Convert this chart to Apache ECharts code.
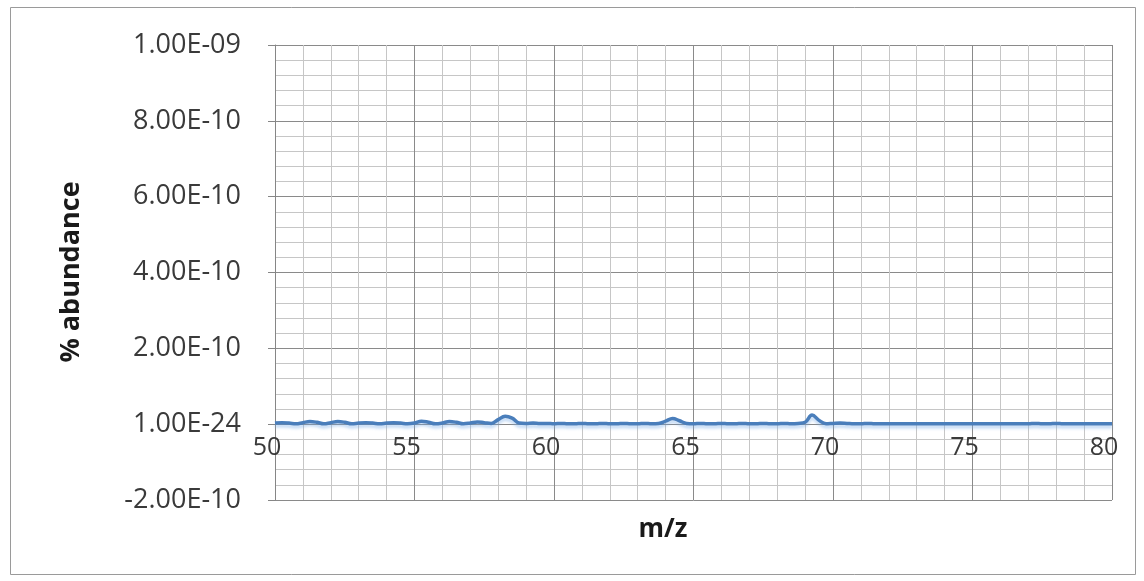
<!DOCTYPE html>
<html>
<head>
<meta charset="utf-8">
<script src="https://cdn.jsdelivr.net/npm/echarts@6/dist/echarts.min.js"></script>
<style>html,body{margin:0;padding:0;background:#fff}#c{width:1144px;height:581px}</style>
</head>
<body>
<div id="c"></div>
<script>
const mz = [50,50.25,50.5,50.75,51,51.25,51.5,51.75,52,52.25,52.5,52.75,53,53.25,53.5,53.75,54,54.25,54.5,54.75,
55,55.25,55.5,55.75,56,56.25,56.5,56.75,57,57.25,57.5,57.75,58,58.25,58.5,58.75,59,59.25,59.5,59.75,
60,60.25,60.5,60.75,61,61.25,61.5,61.75,62,62.25,62.5,62.75,63,63.25,63.5,63.75,64,64.25,64.5,64.75,
65,65.25,65.5,65.75,66,66.25,66.5,66.75,67,67.25,67.5,67.75,68,68.25,68.5,68.75,69,69.25,69.5,69.75,
70,70.25,70.5,70.75,71,71.25,71.5,71.75,72,72.25,72.5,72.75,73,73.25,73.5,73.75,74,74.25,74.5,74.75,
75,75.25,75.5,75.75,76,76.25,76.5,76.75,77,77.25,77.5,77.75,78,78.25,78.5,78.75,79,79.25,79.5,79.75,80];
const abundance = [3e-12,4e-12,3e-12,1e-12,4e-12,7e-12,5e-12,1e-12,4e-12,7e-12,5e-12,1e-12,3e-12,4e-12,3e-12,1e-12,3e-12,4e-12,3e-12,1e-12,
3e-12,8e-12,5e-12,1e-12,3e-12,7e-12,5e-12,1e-12,3e-12,6e-12,4e-12,2e-12,12e-12,21e-12,16e-12,3e-12,2e-12,3e-12,2e-12,2e-12,
1e-12,2e-12,1e-12,1e-12,2e-12,1e-12,1e-12,2e-12,1e-12,1e-12,2e-12,1e-12,1e-12,2e-12,1e-12,2e-12,8e-12,15e-12,9e-12,2e-12,
1e-12,2e-12,1e-12,1e-12,2e-12,1e-12,1e-12,2e-12,1e-12,1e-12,2e-12,1e-12,1e-12,2e-12,1e-12,2e-12,5e-12,24e-12,10e-12,1e-12,
2e-12,3e-12,2e-12,1e-12,1e-12,2e-12,1e-12,1e-12,1e-12,1e-12,1e-12,1e-12,1e-12,1e-12,1e-12,1e-12,1e-12,1e-12,1e-12,1e-12,
1e-12,1e-12,1e-12,1e-12,1e-12,1e-12,1e-12,1e-12,1e-12,2e-12,1e-12,1e-12,2e-12,1e-12,1e-12,1e-12,1e-12,1e-12,1e-12,1e-12,1e-12];
const yTickLabels = ['-2.00E-10','1.00E-24','2.00E-10','4.00E-10','6.00E-10','8.00E-10','1.00E-09'];
const yMin = -2e-10, yMax = 1e-9, yStep = 2e-10;
const xMin = 50, xMax = 80, xStep = 5;
const xTitle = 'm/z';
const yTitle = '% abundance';

const font = '"Open Sans", Lato, sans-serif';
const chart = echarts.init(document.getElementById('c'), null, {renderer:'canvas'});
const option = {
  animation:false,
  backgroundColor:'#fff',
  grid:{left:275, right:32, top:45, bottom:81},
  graphic:[
    {type:'rect', shape:{x:10.5,y:7.5,width:1125,height:567}, style:{fill:'none', stroke:'#9a9a9a', lineWidth:1}, z:-1},
    {type:'text', x:663, y:530, style:{text:xTitle, font:'bold 26px '+font, fill:'#1a1a1a', align:'center', verticalAlign:'middle'}},
    {type:'text', x:71, y:272, rotation:Math.PI/2, style:{text:yTitle, font:'bold 27px '+font, fill:'#1a1a1a', align:'center', verticalAlign:'middle'}}
  ],
  xAxis:{
    type:'value', min:xMin, max:xMax, interval:xStep,
    axisLine:{onZero:false, lineStyle:{color:'#868686', width:1}},
    axisTick:{show:false},
    axisLabel:{color:'#3a3a3a', fontSize:25, fontFamily:font, margin:11, padding:[0,16,0,0]},
    splitLine:{show:true, lineStyle:{color:'#8a8a8a', width:1}},
    minorTick:{show:false, splitNumber:5},
    minorSplitLine:{show:true, lineStyle:{color:'#c6c6c6', width:1}}
  },
  yAxis:{
    type:'value', min:yMin, max:yMax, interval:yStep,
    axisLine:{show:true, onZero:false, lineStyle:{color:'#868686', width:1}},
    axisTick:{show:true, length:7, lineStyle:{color:'#868686'}},
    axisLabel:{color:'#3a3a3a', fontSize:27, fontFamily:font, margin:34,
      formatter:function(v){return yTickLabels[Math.round((v - yMin)/yStep)];}},
    splitLine:{show:true, lineStyle:{color:'#8a8a8a', width:1}},
    minorTick:{show:false, splitNumber:5},
    minorSplitLine:{show:true, lineStyle:{color:'#c6c6c6', width:1}}
  },
  series:[{
    type:'line', data:mz.map((x,i)=>[x, abundance[i]]), showSymbol:false, smooth:0.4,
    lineStyle:{color:'#4a7ebb', width:3.5, shadowColor:'rgba(120,170,230,0.45)', shadowBlur:3, shadowOffsetY:3},
    z:5
  }]
};
chart.setOption(option);
// place the x axis where y = 0, like the original (axis crossing at zero)
const zeroPx = chart.convertToPixel({yAxisIndex:0}, 0);
const bottomPx = chart.convertToPixel({yAxisIndex:0}, yMin);
chart.setOption({xAxis:{offset: -(bottomPx - zeroPx)}});
</script>
</body>
</html>
